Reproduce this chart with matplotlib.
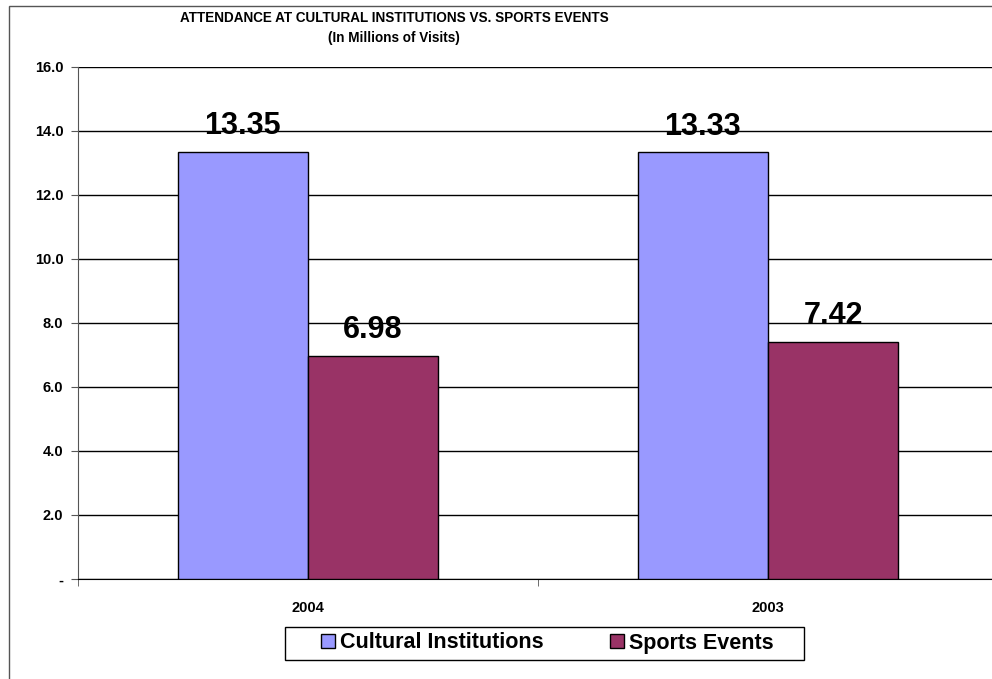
import matplotlib
matplotlib.use("Agg")
import matplotlib.pyplot as plt
from matplotlib.patches import Rectangle, Patch
import numpy as np

plt.rcParams['font.family'] = ['Liberation Sans', 'DejaVu Sans']

years = ["2004", "2003"]
cultural = [13.35, 13.33]
sports = [6.98, 7.42]
series_names = ["Cultural Institutions", "Sports Events"]
y_ticks = [0, 2, 4, 6, 8, 10, 12, 14, 16]
y_tick_labels = ["-", "2.0", "4.0", "6.0", "8.0", "10.0", "12.0", "14.0", "16.0"]

W, H = 992, 679
fig = plt.figure(figsize=(W / 100, H / 100), dpi=100)

# outer chart frame
fig.patches.append(Rectangle((9 / W, -0.01), 1.0, 1 - 6 / H + 0.01,
                             transform=fig.transFigure, fill=False,
                             edgecolor="#555555", linewidth=1.0))

ax = fig.add_axes([78 / W, 1 - 579 / H, 920 / W, 512 / H])

x = np.arange(len(years)) + 0.5
bw = 0.283
c_col, s_col = "#9999FF", "#993366"
b1 = ax.bar(x - bw / 2, cultural, bw, color=c_col, edgecolor="black", linewidth=1, zorder=3)
b2 = ax.bar(x + bw / 2, sports, bw, color=s_col, edgecolor="black", linewidth=1, zorder=3)

for bars, vals in ((b1, cultural), (b2, sports)):
    for r, v in zip(bars, vals):
        ax.annotate(f"{v:.2f}", (r.get_x() + r.get_width() / 2, v),
                    xytext=(0, 12.5), textcoords="offset points",
                    ha="center", va="baseline", fontsize=22, fontweight="bold", zorder=4)

ax.set_xlim(0, len(years))
ax.set_ylim(0, 16)
ax.set_yticks(y_ticks)
ax.set_yticklabels(y_tick_labels, fontsize=10.5, fontweight="bold")
ax.set_xticks(x)
ax.set_xticklabels(years, fontsize=10.5, fontweight="bold")
ax.tick_params(axis="x", length=0, pad=16)
ax.set_xticks(np.arange(len(years) + 1), minor=True)
ax.tick_params(axis="x", which="minor", length=5, direction="out", color="#555555")
ax.tick_params(axis="y", length=5, direction="out", color="#555555", pad=5.5)

ax.yaxis.grid(True, color="black", linewidth=1, zorder=0)
ax.set_axisbelow(True)
for s in ("top", "right"):
    ax.spines[s].set_visible(False)
ax.spines["left"].set_color("#555555")
ax.spines["bottom"].set_color("black")

fig.text(394 / W, 1 - 18 / H, "ATTENDANCE AT CULTURAL INSTITUTIONS VS. SPORTS EVENTS",
         ha="center", va="center", fontsize=9.75, fontweight="bold")
fig.text(394 / W, 1 - 38 / H, "(In Millions of Visits)",
         ha="center", va="center", fontsize=9.75, fontweight="bold")

# legend box
fig.patches.append(Rectangle((285 / W, 1 - 660 / H), 519 / W, 33 / H,
                             transform=fig.transFigure, facecolor="white",
                             edgecolor="black", linewidth=1.0, zorder=5))
handles = [Patch(facecolor=c_col, edgecolor="black"), Patch(facecolor=s_col, edgecolor="black")]
leg = fig.legend(handles, series_names, loc="center", bbox_to_anchor=(547.5 / W, 1 - 643 / H),
                 ncol=2, frameon=False, prop={"size": 15.5, "weight": "bold"},
                 handlelength=0.65, handleheight=0.65, handletextpad=0.23,
                 columnspacing=3.1, borderpad=0.0, borderaxespad=0.0)
leg.set_zorder(6)

fig.savefig("out.png", dpi=100)
